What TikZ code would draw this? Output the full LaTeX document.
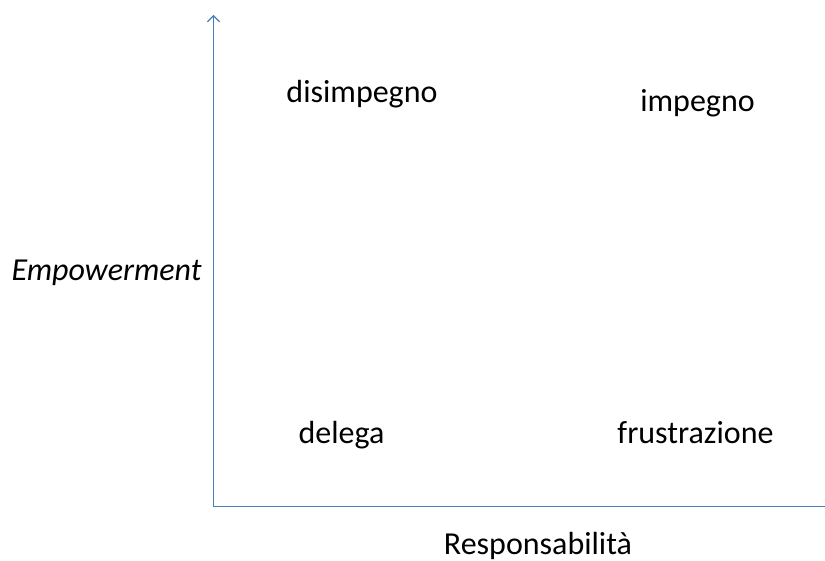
\documentclass[tikz,border=0pt]{standalone}
\usepackage{fontspec}
\setmainfont{Carlito}
\usetikzlibrary{arrows.meta}
\definecolor{axisblue}{HTML}{4A7EBB}
\begin{document}
\begin{tikzpicture}[x=1pt,y=-1pt,
  lbl/.style={anchor=base,inner sep=0pt,font=\fontsize{32}{38}\selectfont},
  axis/.style={draw=axisblue,line width=1.8pt,-{Straight Barb[length=6pt,width=12pt,line width=1.2pt]}}]
\useasboundingbox (0,0) rectangle (825,561);
\coordinate (o) at (213.5,506.5);
\coordinate (ytop) at (213.5,15);
\coordinate (xend) at (832,506.5);
\begin{scope}
\clip (0,0) rectangle (825,561);
\draw[axis] (o) -- (ytop);
\draw[axis] (o) -- (xend);
\end{scope}
\node[lbl] (dis) at (362,103) {disimpegno};
\node[lbl] (imp) at (697.5,112) {impegno};
\node[lbl,font=\fontsize{32}{38}\selectfont\itshape] (emp) at (106.5,281) {Empowerment};
\node[lbl] (del) at (341.5,443) {delega};
\node[lbl] (fru) at (695.5,443) {frustrazione};
\node[lbl] (resp) at (538,554) {Responsabilità};
\end{tikzpicture}
\end{document}
